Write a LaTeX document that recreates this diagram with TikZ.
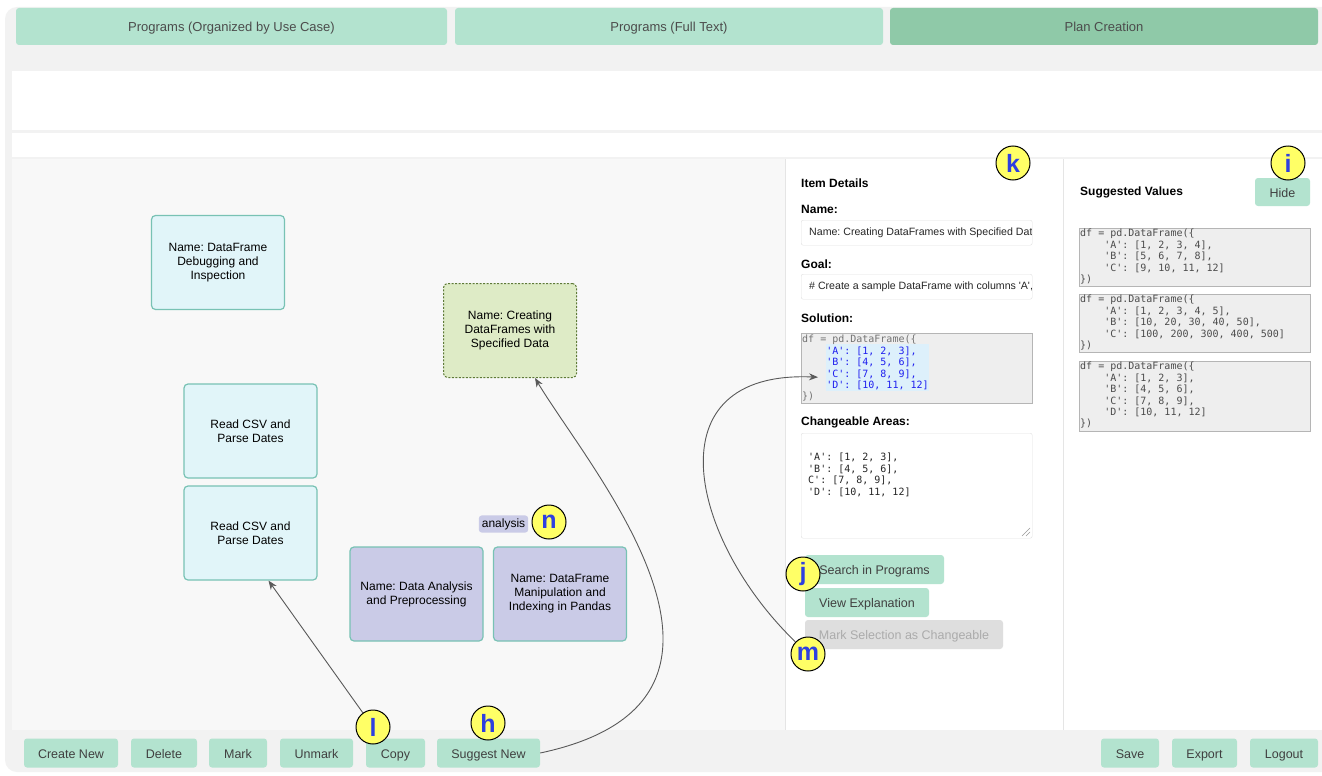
\documentclass[tikz,border=0pt]{standalone}
\usepackage{fontspec}
\setmainfont{Liberation Sans}
\setmonofont{DejaVu Sans Mono}
\usetikzlibrary{arrows.meta}
\definecolor{tabgreen}{HTML}{B3E3CF}
\definecolor{tabdark}{HTML}{8FC9A8}
\definecolor{cardblue}{HTML}{E1F5F9}
\definecolor{cardedge}{HTML}{78C2B4}
\definecolor{cardgreen}{HTML}{DEEBC6}
\definecolor{greenedge}{HTML}{5E7A36}
\definecolor{cardlav}{HTML}{CACBE7}
\definecolor{codebg}{HTML}{EEEEEE}
\definecolor{codeedge}{HTML}{B5B5B5}
\definecolor{hiblue}{HTML}{DDF0FB}
\definecolor{codeblue}{HTML}{1F1FEF}
\definecolor{badgey}{HTML}{FFFF66}
\definecolor{badgeblue}{HTML}{2E3FE0}
\definecolor{panelgray}{HTML}{F2F2F2}
\definecolor{canvasgray}{HTML}{F8F8F8}
\newcommand{\bh}{29pt}
\newcommand{\pad}{\phantom{0000}}

\begin{document}
\frenchspacing
\begin{tikzpicture}[x=1pt,y=-1pt,
    tab/.style={fill=tabgreen, rounded corners=3pt, minimum width=431pt, minimum height=37pt, inner sep=0pt, text height=10.4pt, text depth=0pt, text=black!70, font=\fontsize{13}{15}\selectfont},
    btn/.style={fill=tabgreen, rounded corners=3pt, minimum height=\bh, inner sep=0pt, text height=10pt, text depth=0pt, text=black!75, font=\fontsize{12.5}{14}\selectfont},
    card/.style={draw=cardedge, line width=1.2pt, fill=cardblue, rounded corners=4pt, minimum width=133pt, minimum height=94pt, inner sep=0pt, align=center, font=\fontsize{12}{14}\selectfont},
    badge/.style={circle, draw=black, line width=1pt, fill=badgey, minimum size=34pt, inner sep=0pt, text=badgeblue, font=\fontsize{25}{25}\selectfont\bfseries},
    head/.style={anchor=west, inner sep=0pt, font=\fontsize{12}{14}\selectfont\bfseries},
    field/.style={draw=black!12, fill=white, rounded corners=2pt, minimum width=231pt, minimum height=25pt, anchor=north west, inner sep=0pt},
    fieldtext/.style={anchor=west, inner sep=0pt, text=black!85, font=\fontsize{10.6}{13}\selectfont},
    codebox/.style={draw=codeedge, fill=codebg, minimum width=231pt, anchor=north west, inner sep=0pt},
    code/.style={anchor=north west, align=left, inner sep=0pt, text=black!70, font=\fontsize{10}{11.4}\selectfont\ttfamily},
    link/.style={draw=black!65, line width=0.9pt, -{Stealth[length=9pt,width=7pt]}}]

    \useasboundingbox (0,0) rectangle (1322,776);
    % Window
    \fill[white] (0,0) rectangle (1322,776);
    \fill[panelgray, rounded corners=12pt] (5,7) rectangle (1340,772);
    \fill[white] (12,71) rectangle (1322,130);
    \fill[white] (12,133) rectangle (1322,157);
    \fill[canvasgray] (12,159) rectangle (785,730);
    \fill[white] (785,159) rectangle (1322,730);
    \draw[black!10] (785,159) -- (785,730);
    \draw[black!10] (1063,159) -- (1063,730);

    % Tabs
    \node[tab] (tab-1) at (231.5,26.5) {Programs (Organized by Use Case)};
    \node[tab, minimum width=428pt] (tab-2) at (669,26.5) {Programs (Full Text)};
    \node[tab, fill=tabdark, minimum width=428pt] (tab-3) at (1104,26.5) {Plan Creation};

    % Canvas
    \node[card] (debug) at (218,262.5) {Name: DataFrame\\Debugging and\\Inspection};
    \node[card, fill=cardgreen, draw=greenedge, line width=1pt, dash pattern=on 2pt off 1.5pt] (create) at (510,330.5) {Name: Creating\\DataFrames with\\Specified Data};
    \node[card] (csv-1) at (250.5,431) {Read CSV and\\Parse Dates};
    \node[card] (csv-2) at (250.5,533) {Read CSV and\\Parse Dates};
    \node[card, fill=cardlav] (analysis) at (416.5,594) {Name: Data Analysis\\and Preprocessing};
    \node[card, fill=cardlav] (manip) at (560,594) {Name: DataFrame\\Manipulation and\\Indexing in Pandas};
    \node[fill=cardlav, rounded corners=3pt, inner sep=3pt, font=\fontsize{12}{14}\selectfont] (tag) at (503.5,524) {analysis};

    % Bottom row
    \node[btn, minimum width=94pt] (create-new) at (71,753) {Create New};
    \node[btn, minimum width=66pt] (delete) at (164,753) {Delete};
    \node[btn, minimum width=58pt] (mark) at (238,753) {Mark};
    \node[btn, minimum width=73pt] (unmark) at (316.5,753) {Unmark};
    \node[btn, minimum width=59pt] (copy) at (395.5,753) {Copy};
    \node[btn, minimum width=103pt] (suggest) at (488.5,753) {Suggest New};
    \node[btn, minimum width=58pt] (save) at (1130,753) {Save};
    \node[btn, minimum width=65pt] (export) at (1204.5,753) {Export};
    \node[btn, minimum width=68pt] (logout) at (1284,753) {Logout};

    % Item details
    \node[head] (item-head) at (801,183) {Item Details};
    \node[head] (name-head) at (801,209) {Name:};
    \node[field] (name-field) at (801,220) {};
    \begin{scope}
        \clip (801,220) rectangle (1031,245);
        \node[fieldtext] (name-text) at (809,232.5) {Name: Creating DataFrames with Specified Data};
    \end{scope}
    \node[head] (goal-head) at (801,264) {Goal:};
    \node[field] (goal-field) at (801,274) {};
    \node[fieldtext] (goal-text) at (809,286.5) {\# Create a sample DataFrame with columns \textquotesingle A\textquotesingle,};
    \node[head] (sol-head) at (801,318) {Solution:};
    \node[codebox, minimum height=70pt] (solution) at (801,333) {};
    \fill[hiblue] (826,344) rectangle (929,391);
    \node[code, text=black!55] (sol-code) at (802,335) {df = pd.DataFrame(\{\\
        \pad{\color{codeblue}'A': [1, 2, 3],}\\
        \pad{\color{codeblue}'B': [4, 5, 6],}\\
        \pad{\color{codeblue}'C': [7, 8, 9],}\\
        \pad{\color{codeblue}'D': [10, 11, 12]}\\
        \})};
    \node[head] (area-head) at (801,422) {Changeable Areas:};
    \node[field, minimum height=105pt] (areas) at (801,433) {};
    \node[code, text=black!85] (area-code) at (808,453) {'A': [1, 2, 3],\\'B': [4, 5, 6],\\C': [7, 8, 9],\\'D': [10, 11, 12]};
    \draw[black!40] (1022,536) -- (1030,528) (1026,536) -- (1030,532);
    \node[btn, minimum width=139pt] (search) at (874.5,569.5) {Search in Programs};
    \node[btn, minimum width=124pt] (explain) at (867,602.5) {View Explanation};
    \node[btn, minimum width=198pt, fill=black!13, text=black!33] (mark-sel) at (904,634.5) {Mark Selection as Changeable};

    % Suggested values
    \node[head] (sugg-head) at (1080,192) {Suggested Values};
    \node[btn, minimum width=55pt, minimum height=28pt] (hide) at (1282.5,192) {Hide};
    \node[codebox, minimum height=58pt] (sugg-1) at (1079,228) {};
    \node[code] (sugg-code-1) at (1080,229) {df = pd.DataFrame(\{\\\pad'A': [1, 2, 3, 4],\\\pad'B': [5, 6, 7, 8],\\\pad'C': [9, 10, 11, 12]\\\})};
    \node[codebox, minimum height=58pt] (sugg-2) at (1079,294) {};
    \node[code] (sugg-code-2) at (1080,295) {df = pd.DataFrame(\{\\\pad'A': [1, 2, 3, 4, 5],\\\pad'B': [10, 20, 30, 40, 50],\\\pad'C': [100, 200, 300, 400, 500]\\\})};
    \node[codebox, minimum height=70pt] (sugg-3) at (1079,361) {};
    \node[code] (sugg-code-3) at (1080,362) {df = pd.DataFrame(\{\\\pad'A': [1, 2, 3],\\\pad'B': [4, 5, 6],\\\pad'C': [7, 8, 9],\\\pad'D': [10, 11, 12]\\\})};

    % Markers
    \node[badge] (h) at (488,723) {h};
    \node[badge] (i) at (1288,163) {i};
    \node[badge] (j) at (803,574) {j};
    \node[badge] (k) at (1013,163) {k};
    \node[badge] (l) at (373,727) {l};
    \node[badge] (m) at (808,654) {m};
    \node[badge] (n) at (549,522) {n};

    % Links
    \draw[link] (l) -- ([xshift=18pt]csv-2.south);
    \draw[link] (suggest.east) .. controls (790,700) and (590,470) .. ([xshift=25pt]create.south);
    \draw[link] (m) .. controls (690,540) and (650,370) .. ([shift={(17,9)}]solution.west);
\end{tikzpicture}
\end{document}
